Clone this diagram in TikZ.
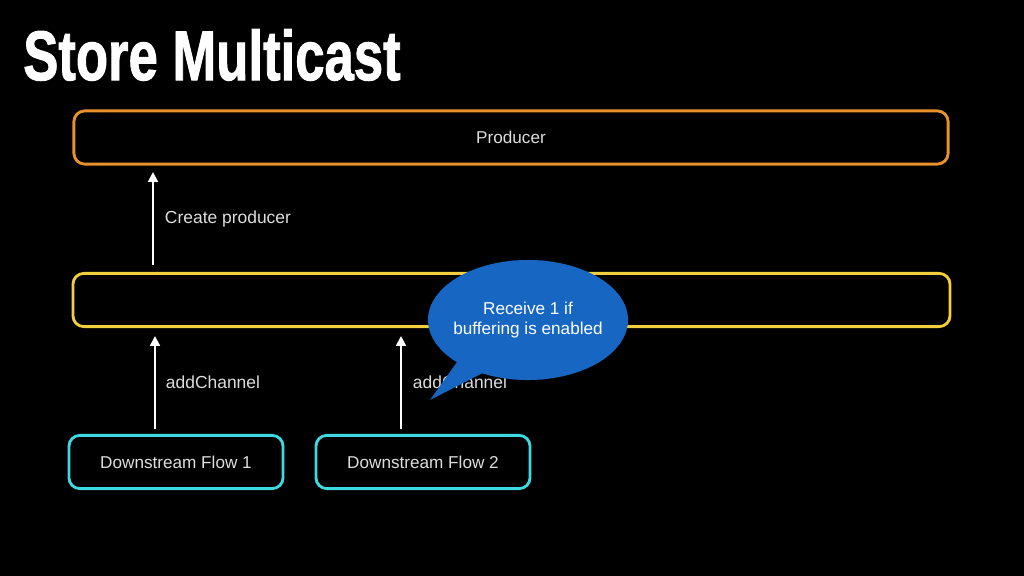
\documentclass[tikz,border=0pt]{standalone}
\usepackage{fontspec}
\setmainfont{Liberation Sans}
\newfontfamily\titlefont[FakeBold=1.6]{Liberation Sans Bold}
\usetikzlibrary{arrows.meta,shapes.callouts}
\definecolor{prodorange}{HTML}{E8922E}
\definecolor{storeyellow}{HTML}{F2CF3C}
\definecolor{flowcyan}{HTML}{3FD9E2}
\definecolor{bubbleblue}{HTML}{1766C2}
\definecolor{labelgray}{HTML}{DDDDDD}
\begin{document}
\begin{tikzpicture}[x=0.025cm,y=-0.025cm,
    box/.style={draw,line width=2pt,rounded corners=0.27cm,text=labelgray,font=\fontsize{12.2}{14}\selectfont,minimum height=1.33cm},
    arr/.style={draw=white,line width=1.4pt,-{Triangle[width=7pt,length=7pt]}},
    lbl/.style={anchor=west,text=labelgray,font=\fontsize{12.4}{14}\selectfont}]
    \fill[black] (0,0) rectangle (1024,576);
    \useasboundingbox (0,0) rectangle (1024,576);

    % Titulo
    \node[anchor=south west,inner sep=0pt,text=white] (title) at (23,81) {\resizebox{9.43cm}{1.27cm}{\titlefont Store Multicast}};

    % Cajas
    \node[box,draw=prodorange,minimum width=21.85cm] (producer) at (511,137.5) {Producer};
    \node[box,draw=storeyellow,minimum width=21.92cm] (store) at (511.5,300) {};
    \node[box,draw=flowcyan,minimum width=5.35cm] (flow1) at (176,462) {Downstream Flow 1};
    \node[box,draw=flowcyan,minimum width=5.35cm] (flow2) at (423,462) {Downstream Flow 2};

    % Flechas
    \coordinate (c0) at (153,265);
    \coordinate (c1) at (153,172);
    \coordinate (d0) at (155,429);
    \coordinate (d1) at (155,336);
    \coordinate (e0) at (401,429);
    \coordinate (e1) at (401,336);
    \draw[arr] (c0) -- (c1);
    \draw[arr] (d0) -- (d1);
    \draw[arr] (e0) -- (e1);
    \node[lbl] (lcreate) at (160,219) {Create producer};
    \node[lbl] (ladd1) at (161,382) {addChannel};
    \node[lbl] (ladd2) at (408,382) {addChannel};

    % Globo
    \node[ellipse callout,fill=bubbleblue,text=white,align=center,
          minimum width=5cm,minimum height=3cm,inner xsep=-3pt,inner ysep=0pt,
          callout absolute pointer={(430,400)},callout pointer arc=18,
          font=\fontsize{12.2}{14.5}\selectfont] (bubble) at (528,320)
          {Receive 1 if\\buffering is enabled};
\end{tikzpicture}
\end{document}
